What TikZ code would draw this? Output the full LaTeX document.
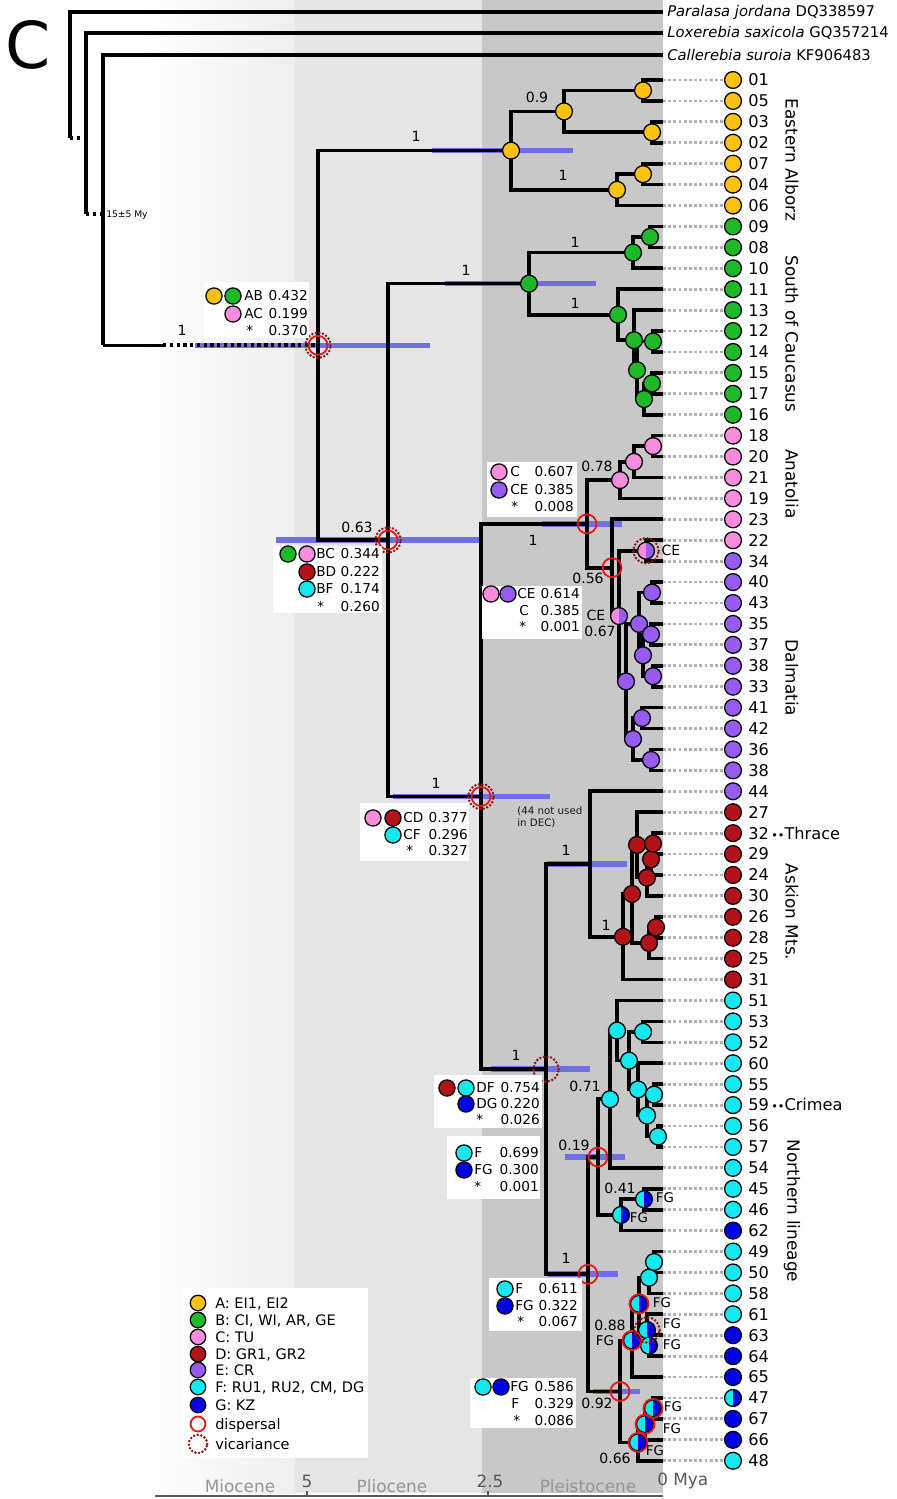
\documentclass[tikz,border=0pt]{standalone}
\usepackage{fontspec}
\setmainfont{DejaVu Sans}
\usetikzlibrary{calc,positioning}

\definecolor{colA}{RGB}{255,194,14}
\definecolor{colB}{RGB}{30,185,40}
\definecolor{colC}{RGB}{250,140,222}
\definecolor{colD}{RGB}{180,18,26}
\definecolor{colE}{RGB}{150,92,240}
\definecolor{colF}{RGB}{20,232,240}
\definecolor{colG}{RGB}{0,0,228}
\definecolor{dispred}{RGB}{232,24,24}
\definecolor{vicred}{RGB}{140,24,24}
\definecolor{hpdblue}{RGB}{112,112,226}
\definecolor{epochgrey}{RGB}{150,150,150}

% internal node half way between two children, on a given x
\newcommand\clade[4]{%
  \path ($(#3)!.5!(#4)$) coordinate (#1-m);
  \coordinate (#1) at (#2,0 |- #1-m);}

\begin{document}
\begin{tikzpicture}[x=0.025cm, y=-0.025cm,
  branch/.style={line width=2.6pt},
  dotbr/.style={line width=2.8pt, dash pattern=on 2.4pt off 2.4pt},
  hpd/.style={line width=4pt, hpdblue},
  tipline/.style={line width=2pt, gray!60, dash pattern=on 2pt off 1.7pt},
  ndot/.style={circle, draw=black, line width=0.9pt, minimum size=12pt, inner sep=0pt},
  cA/.style={fill=colA}, cB/.style={fill=colB}, cC/.style={fill=colC},
  cD/.style={fill=colD}, cE/.style={fill=colE}, cF/.style={fill=colF}, cG/.style={fill=colG},
  cFG/.style={fill=colF, path picture={\fill[colG] (path picture bounding box.north) rectangle (path picture bounding box.south east);}},
  cCE/.style={fill=colC, path picture={\fill[colE] (path picture bounding box.north) rectangle (path picture bounding box.south east);}},
  disp/.style={circle, draw=dispred, line width=1.3pt, minimum size=13.5pt, inner sep=0pt},
  vic/.style={circle, draw=vicred, line width=2pt, line cap=round, dash pattern=on 0pt off 2.6pt, minimum size=18pt, inner sep=0pt},
  tiplab/.style={font=\fontsize{11.5}{12}\selectfont, anchor=west, inner sep=0pt, text height=8.4pt, text depth=0pt},
  grplab/.style={font=\fontsize{12}{13}\selectfont, rotate=-90},
  ogl/.style={font=\fontsize{10.5}{11}\selectfont, anchor=west, inner sep=0pt},
  supp/.style={font=\fontsize{10}{11}\selectfont, inner sep=0pt},
  fglab/.style={font=\fontsize{9.5}{10}\selectfont, inner sep=0pt},
  legtxt/.style={font=\fontsize{9.7}{10}\selectfont, inner sep=0pt, text height=7pt, text depth=0pt},
  keytxt/.style={font=\fontsize{10.3}{11}\selectfont, anchor=west, inner sep=0pt, text height=7.5pt, text depth=0pt},
  epoch/.style={font=\fontsize{12}{13}\selectfont, epochgrey, inner sep=0pt},
  axnum/.style={font=\fontsize{12}{13}\selectfont, gray!70!black, inner sep=0pt}]
\useasboundingbox (0,0) rectangle (896,1499);

% epochs
\shade[left color=white, right color=gray!13] (140,0) rectangle (295,1493);
\fill[gray!20] (295,0) rectangle (482,1493);
\fill[gray!43] (482,0) rectangle (663,1493);

\node[font=\fontsize{46}{46}\selectfont, inner sep=0pt] (panel) at (28,45) {C};

% tips
\foreach \lab/\col [count=\i from 0] in {01/cA,05/cA,03/cA,02/cA,07/cA,04/cA,06/cA,
  09/cB,08/cB,10/cB,11/cB,13/cB,12/cB,14/cB,15/cB,17/cB,16/cB,
  18/cC,20/cC,21/cC,19/cC,23/cC,22/cC,
  34/cE,40/cE,43/cE,35/cE,37/cE,38/cE,33/cE,41/cE,42/cE,36/cE,38/cE,44/cE,
  27/cD,32/cD,29/cD,24/cD,30/cD,26/cD,28/cD,25/cD,31/cD,
  51/cF,53/cF,52/cF,60/cF,55/cF,59/cF,56/cF,57/cF,54/cF,45/cF,46/cF,62/cG,
  49/cF,50/cF,58/cF,61/cF,63/cG,64/cG,65/cG,47/cFG,67/cG,66/cG,48/cF}{
  \coordinate (t\i) at (663,80+20.92*\i);
  \node[ndot,\col] (d\i) at (733,80+20.92*\i) {};
  \node[tiplab] (l\i) at (748,80+20.92*\i) {\lab};
  \draw[tipline] (t\i) -- (d\i);
}
\node[tiplab] (thrace) at (771,0 |- t36) {{\fontsize{8}{8}\selectfont ••}Thrace};
\node[tiplab] (crimea) at (771,0 |- t49) {{\fontsize{8}{8}\selectfont ••}Crimea};

\node[grplab] (gEA) at (792,160) {Eastern Alborz};
\node[grplab] (gSC) at (792,334) {South of Caucasus};
\node[grplab] (gAN) at (792,484) {Anatolia};
\node[grplab] (gDA) at (792,678) {Dalmatia};
\node[grplab] (gAS) at (792,912) {Askion Mts.};
\node[grplab] (gNL) at (792,1211) {Northern lineage};

% outgroups
\coordinate (og1) at (663,12);
\coordinate (og2) at (663,33);
\coordinate (og3) at (663,55);
\node[ogl] (og1l) at (667,12) {\textit{Paralasa jordana} DQ338597};
\node[ogl] (og2l) at (667,33) {\textit{Loxerebia saxicola} GQ357214};
\node[ogl] (og3l) at (667,55) {\textit{Callerebia suroia} KF906483};

% clades
\clade{a11}{643}{t0}{t1}
\clade{a12}{652}{t2}{t3}
\clade{a1}{564}{a11}{a12}
\clade{a21}{643}{t4}{t5}
\clade{a2}{617}{a21}{t6}
\clade{aa}{511}{a1}{a2}
\clade{b11}{650}{t7}{t8}
\clade{b1}{633}{b11}{t9}
\clade{b31}{653}{t12}{t13}
\clade{b41}{652}{t14}{t15}
\clade{b4}{644}{b41}{t16}
\clade{b32}{637}{b31}{b4}
\clade{b3}{634}{t11}{b32}
\clade{b2}{618}{t10}{b3}
\clade{bb}{529}{b1}{b2}
\clade{c3}{653}{t17}{t18}
\clade{c2}{634}{c3}{t19}
\clade{c1}{620}{c2}{t20}
\clade{ce}{646}{t22}{t23}
\clade{e21}{652}{t24}{t25}
\clade{e31}{651}{t26}{t27}
\clade{e32}{653}{t28}{t29}
\clade{e3}{643}{e31}{e32}
\clade{e2}{639}{e21}{e3}
\clade{e41}{642}{t30}{t31}
\clade{e42}{651}{t32}{t33}
\clade{e4}{633}{e41}{e42}
\clade{e1}{626}{e2}{e4}
\clade{d0}{619}{ce}{e1}
\clade{n5}{612}{t21}{d0}
\clade{n4}{587}{c1}{n5}
\clade{k1}{653}{t36}{t37}
\clade{k2}{651}{k1}{t38}
\clade{k3}{647}{k2}{t39}
\clade{k4}{637}{t35}{k3}
\clade{k5}{656}{t40}{t41}
\clade{k6}{649}{k5}{t42}
\clade{k7}{632}{k4}{k6}
\clade{kk}{623}{k7}{t43}
\clade{n7}{590}{t34}{kk}
\clade{f1}{643}{t45}{t46}
\clade{f2}{654}{t48}{t49}
\clade{f3}{658}{t50}{t51}
\clade{f4}{647}{f2}{f3}
\clade{f5}{638}{t47}{f4}
\clade{f6}{629}{f1}{f5}
\clade{f7}{617}{t44}{f6}
\clade{f8}{610}{f7}{t52}
\clade{g1}{644}{t53}{t54}
\clade{g2}{621}{g1}{t55}
\clade{n8}{598}{f8}{g2}
\clade{h1}{654}{t56}{t57}
\clade{h2}{649}{h1}{t58}
\clade{h3}{649}{t60}{t61}
\clade{h4}{647}{t59}{h3}
\clade{h5}{639}{h2}{h4}
\clade{h6}{632}{h5}{t62}
\clade{h7}{653}{t63}{t64}
\clade{h8}{645}{h7}{t65}
\clade{h9}{638}{h8}{t66}
\clade{n9}{620}{h6}{h9}
\clade{n10}{588}{n8}{n9}
\clade{n6}{546}{n7}{n10}
\clade{n3}{481}{n4}{n6}
\clade{n2}{388}{bb}{n3}
\clade{n1}{318}{aa}{n2}

% age bars
\foreach \nd/\xa/\xb in {n1/195/430, aa/432/573, bb/445/596, n2/276/480, n3/393/550,
  n4/542/622, n7/547/627, n6/491/590, n8/565/625, n10/548/618, n9/593/640}
  \draw[hpd] (\xa,0 |- \nd) -- (\xb,0 |- \nd);

% root and stem
\coordinate (r0) at (70,138);
\coordinate (r1) at (86,138);
\coordinate (r2) at (86,214);
\coordinate (r3) at (103,214);
\coordinate (r4) at (103,0 |- n1);
\coordinate (stemcut) at (163,0 |- n1);
\draw[branch] (r0) |- (og1);
\draw[branch] (r2) |- (og2);
\draw[branch] (r4) |- (og3);
\draw[dotbr] (r0) -- (r1);
\draw[dotbr] (r2) -- (r3);
\draw[branch] (r4) -- (stemcut);
\draw[dotbr] (stemcut) -- (n1);
\node[font=\fontsize{6.5}{7}\selectfont, anchor=west, inner sep=0pt] (age) at (106,215) {15±5 My};

% branches
\foreach \p/\c in {n1/aa, n1/n2,
  aa/a1, aa/a2, a1/a11, a1/a12, a11/t0, a11/t1, a12/t2, a12/t3, a2/a21, a2/t6, a21/t4, a21/t5,
  n2/bb, n2/n3,
  bb/b1, bb/b2, b1/b11, b1/t9, b11/t7, b11/t8, b2/t10, b2/b3, b3/t11, b3/b32, b32/b31, b32/b4,
  b31/t12, b31/t13, b4/b41, b4/t16, b41/t14, b41/t15,
  n3/n4, n3/n6,
  n4/c1, n4/n5, c1/c2, c1/t20, c2/c3, c2/t19, c3/t17, c3/t18,
  n5/t21, n5/d0, d0/ce, d0/e1, ce/t22, ce/t23, e1/e2, e1/e4, e2/e21, e2/e3, e21/t24, e21/t25,
  e3/e31, e3/e32, e31/t26, e31/t27, e32/t28, e32/t29, e4/e41, e4/e42, e41/t30, e41/t31,
  e42/t32, e42/t33,
  n6/n7, n6/n10,
  n7/t34, n7/kk, kk/k7, kk/t43, k7/k4, k7/k6, k4/t35, k4/k3, k3/k2, k3/t39, k2/k1, k2/t38,
  k1/t36, k1/t37, k6/k5, k6/t42, k5/t40, k5/t41,
  n10/n8, n10/n9,
  n8/f8, n8/g2, f8/f7, f8/t52, f7/t44, f7/f6, f6/f1, f6/f5, f1/t45, f1/t46, f5/t47, f5/f4,
  f4/f2, f4/f3, f2/t48, f2/t49, f3/t50, f3/t51, g2/g1, g2/t55, g1/t53, g1/t54,
  n9/h6, n9/h9, h6/h5, h6/t62, h5/h2, h5/h4, h2/h1, h2/t58, h1/t56, h1/t57, h4/t59, h4/h3,
  h3/t60, h3/t61, h9/h8, h9/t66, h8/h7, h8/t65, h7/t63, h7/t64}
  \draw[branch] (\p) |- (\c);

% ancestral areas
\foreach \n/\s in {aa/cA, a1/cA, a11/cA, a12/cA, a2/cA, a21/cA,
  bb/cB, b1/cB, b11/cB, b2/cB, b3/cB, b31/cB, b32/cB, b4/cB, b41/cB,
  c1/cC, c2/cC, c3/cC,
  e1/cE, e2/cE, e21/cE, e3/cE, e31/cE, e32/cE, e4/cE, e41/cE, e42/cE,
  kk/cD, k7/cD, k4/cD, k3/cD, k2/cD, k1/cD, k6/cD, k5/cD,
  f8/cF, f7/cF, f6/cF, f1/cF, f5/cF, f4/cF, f2/cF, f3/cF, h2/cF, h1/cF,
  ce/cCE, d0/cCE,
  g2/cFG, g1/cFG, h6/cFG, h5/cFG, h4/cFG, h3/cFG, h9/cFG, h8/cFG, h7/cFG}
  \node[ndot,\s] (\n-o) at (\n) {};
\foreach \n in {n1, n2, n3, n4, n5, n8, n9, n10, h5, h6, h7, h8, h9}
  \node[disp] (\n-r) at (\n) {};
\foreach \n in {n1, n2, n3, n6, ce, h4}
  \node[vic] (\n-v) at (\n) {};

% support values
\foreach \nm/\px/\py/\tx in {s1/182/330/1, s2/416/136/1, s3/537/97/0.9, s4/563/175/1,
  s5/466/270/1, s6/575/242/1, s7/575/303/1, s8/357/527/0.63, s9/436/783/1,
  s10/597/466/0.78, s11/533/540/1, s12/588/578/0.56, s13/600/631/0.67, s14/566/850/1,
  s15/606/925/1, s16/516/1055/1, s17/585/1086/0.71, s18/574/1145/0.19, s19/620/1188/0.41,
  s20/566/1258/1, s21/610/1325/0.88, s22/597/1403/0.92, s23/615/1458/0.66, q1/596/615/CE,
  q2/671/550/CE}
  \node[supp] (\nm) at (\px,\py) {\tx};
\foreach \nm/\px/\py in {q3/665/1198, q4/639/1218, q5/662/1303, q6/672/1324, q7/672/1345,
  q8/605/1341, q9/673/1407, q10/672/1429, q11/655/1451}
  \node[fglab] (\nm) at (\px,\py) {FG};
\node[font=\fontsize{7.3}{8.6}\selectfont, align=left, anchor=north west, inner sep=0pt, gray!20!black] (note44) at (517,806) {(44 not used\\in DEC)};

% area probability boxes
\fill[white] (204,282) rectangle (309,338);
\fill[white] (273,546) rectangle (382,613);
\fill[white] (360,803) rectangle (469,861);
\fill[white] (487,462) rectangle (577,517);
\fill[white] (482,586) rectangle (582,639);
\fill[white] (434,1075) rectangle (542,1128);
\fill[white] (447,1136) rectangle (540,1199);
\fill[white] (489,1278) rectangle (582,1331);
\fill[white] (470,1378) rectangle (576,1428);
\foreach \nm/\s/\px/\py in {p1/cA/214/296, p2/cB/233/296, p3/cC/233/314,
  p4/cB/288/554, p5/cC/307/554, p6/cD/307/572, p7/cF/307/589,
  p8/cC/373/818, p9/cD/393/818, p10/cF/393/835,
  p11/cC/499/472, p12/cE/499/490,
  p13/cC/491/594, p14/cE/508/594,
  p15/cD/447/1088, p16/cF/466/1088, p17/cG/466/1104,
  p18/cF/464/1153, p19/cG/464/1170,
  p20/cF/505/1289, p21/cG/505/1306,
  p22/cF/483/1387, p23/cG/501/1387}
  \node[ndot,\s, minimum size=11.5pt] (\nm) at (\px,\py) {};
\foreach \nm/\cx/\vx/\py/\cd/\vl in {b1a/244/308/296/AB/0.432, b1b/244/308/314/AC/0.199,
  b1c/246/308/331/*/0.370,
  b2a/316/380/554/BC/0.344, b2b/316/380/572/BD/0.222, b2c/316/380/589/BF/0.174,
  b2d/317/380/607/*/0.260,
  b3a/403/468/818/CD/0.377, b3b/403/468/835/CF/0.296, b3c/406/468/851/*/0.327,
  b4a/510/574/472/C/0.607, b4b/510/574/490/CE/0.385, b4c/511/574/507/*/0.008,
  b5a/517/580/594/CE/0.614, b5b/519/580/611/C/0.385, b5c/519/580/627/*/0.001,
  b6a/476/540/1088/DF/0.754, b6b/476/540/1104/DG/0.220, b6c/476/540/1120/*/0.026,
  b7a/474/539/1153/F/0.699, b7b/474/539/1170/FG/0.300, b7c/474/539/1187/*/0.001,
  b8a/515/578/1289/F/0.611, b8b/515/578/1306/FG/0.322, b8c/517/578/1322/*/0.067,
  b9a/510/574/1387/FG/0.586, b9b/511/574/1404/F/0.329, b9c/513/574/1421/*/0.086}{
  \node[legtxt, anchor=west] (\nm c) at (\cx,\py) {\cd};
  \node[legtxt, anchor=east] (\nm v) at (\vx,\py) {\vl};
}

% key
\fill[white] (182,1288) rectangle (368,1458);
\foreach \nm/\s/\py/\tx in {kA/cA/1303/{A: EI1, EI2}, kB/cB/1320/{B: CI, WI, AR, GE},
  kC/cC/1337/{C: TU}, kD/cD/1354/{D: GR1, GR2}, kE/cE/1370/{E: CR},
  kF/cF/1387/{F: RU1, RU2, CM, DG}, kG/cG/1405/{G: KZ}}{
  \node[ndot,\s, minimum size=11pt] (\nm) at (198,\py) {};
  \node[keytxt] (\nm t) at (215,\py) {\tx};
}
\node[disp, minimum size=10.6pt] (kDs) at (198,1424) {};
\node[keytxt] (kDst) at (215,1424) {dispersal};
\node[vic, minimum size=13pt] (kVc) at (198,1444) {};
\node[keytxt] (kVct) at (215,1444) {vicariance};

% time axis
\draw[line width=0.9pt, gray!70!black] (155,1496) -- (663,1496);
\draw[line width=0.9pt, gray!70!black] (307,1496) -- (307,1491);
\draw[line width=0.9pt, gray!70!black] (488,1496) -- (488,1491);
\node[epoch] (mio) at (240,1486) {Miocene};
\node[epoch] (plio) at (392,1486) {Pliocene};
\node[epoch] (pleis) at (588,1486) {Pleistocene};
\node[axnum] (a5) at (307,1481) {5};
\node[axnum] (a25) at (490,1481) {2.5};
\node[axnum, anchor=west] (a0) at (657,1481) {0 Mya};
\end{tikzpicture}
\end{document}
